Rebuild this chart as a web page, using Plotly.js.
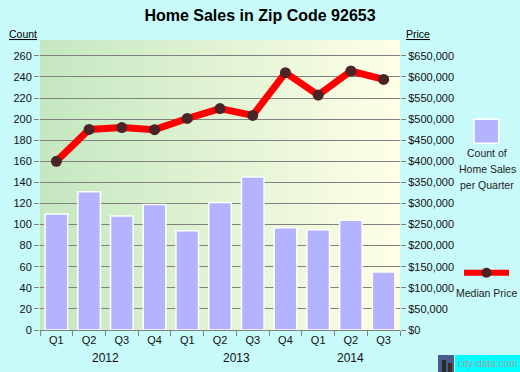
<!DOCTYPE html>
<html>
<head>
<meta charset="utf-8">
<script src="https://cdn.plot.ly/plotly-3.0.1.min.js"></script>
<style>
html,body{margin:0;padding:0;background:#C8FAFA;}
#chart{width:520px;height:372px;}
</style>
</head>
<body>
<div id="chart"></div>
<script>
// ---- data ----
const quarters = ['Q1','Q2','Q3','Q4','Q1','Q2','Q3','Q4','Q1','Q2','Q3'];
const years    = ['2012','2012','2012','2012','2013','2013','2013','2013','2014','2014','2014'];
const salesCount = [110,131,108,119,94,121,145,97,95,104,55];
const medianPrice = [400000,475500,480000,475000,501500,525000,508700,610000,557000,614000,594000];
const countTicks = [0,20,40,60,80,100,120,140,160,180,200,220,240,260];
const priceTicks = [0,50000,100000,150000,200000,250000,300000,350000,400000,450000,500000,550000,600000,650000];
const yearLabels = ['2012','2013','2014'];

// ---- build ----
const cats = quarters.map((q,i)=>years[i]+' '+q);
const priceText = priceTicks.map(v=>'$'+v.toString().replace(/\B(?=(\d{3})+(?!\d))/g, ','));
const W=360, H=290, L=40, T=40;
const px = v => (v-L)/W;
const py = v => (T+H-v)/H;

const gradSvg = "<svg xmlns='http://www.w3.org/2000/svg' width='100' height='100' preserveAspectRatio='none'><defs><linearGradient id='g' x1='0' y1='0' x2='1' y2='0'><stop offset='0' stop-color='#C4E7C1'/><stop offset='1' stop-color='#FFFFE6'/></linearGradient></defs><rect width='100' height='100' fill='url(#g)'/></svg>";

const bars = {
  type:'bar', x:cats, y:salesCount, yaxis:'y',
  marker:{color:'#B3B3FF', line:{color:'#FFFFFF', width:1.5}},
  hoverinfo:'skip', showlegend:false
};
const line = {
  type:'scatter', mode:'lines+markers', x:cats, y:medianPrice, yaxis:'y2',
  line:{color:'#FF0000', width:7},
  marker:{color:'#4B2525', size:11},
  hoverinfo:'skip', showlegend:false
};

const annotations = [];
yearLabels.forEach(y=>{
  const idx = years.map((v,i)=>v===y?i:-1).filter(i=>i>=0);
  const mid = (idx[0]+idx[idx.length-1])/2;
  annotations.push({x:mid, xref:'x', y:py(357.5), yref:'paper', text:y, showarrow:false,
    font:{size:12, color:'#111'}, xanchor:'center', yanchor:'middle'});
});
function note(text, x, y, size, color){
  annotations.push({x:px(x), y:py(y), xref:'paper', yref:'paper', text:text, showarrow:false,
    font:{size:size, color:color}, xanchor:'center', yanchor:'middle', borderpad:0});
}
note('<u>Count</u>', 22.5, 34, 10.5, '#000');
note('<u>Price</u>', 417.5, 34, 10.5, '#000');
note('Count of', 487, 153, 10.5, '#222');
note('Home Sales', 487, 169, 10.5, '#222');
note('per Quarter', 487, 185, 10.5, '#222');
note('Median Price', 486, 293, 10.5, '#222');
note('city-data.com', 487.5, 363, 10, '#A0A0A0');

const shapes = [
  {type:'rect', xref:'paper', yref:'paper', x0:px(474), x1:px(498.7), y0:py(143.3), y1:py(119.3), fillcolor:'#B3B3FF', line:{color:'#FFFFFF', width:1.5}},
  {type:'line', xref:'paper', yref:'paper', x0:px(464), x1:px(509), y0:py(272.7), y1:py(272.7), line:{color:'#FF0000', width:6}},
  {type:'circle', xref:'paper', yref:'paper', x0:px(481.5), x1:px(491.5), y0:py(277.7), y1:py(267.7), fillcolor:'#4B2525', line:{width:0}},
  {type:'rect', xref:'paper', yref:'paper', x0:px(455), x1:px(520), y0:py(372), y1:py(355), fillcolor:'#00FFFF', line:{width:0}},
  {type:'rect', xref:'paper', yref:'paper', x0:px(438), x1:px(454), y0:py(372), y1:py(355), fillcolor:'#4A5A8C', line:{width:0}},
  {type:'rect', xref:'paper', yref:'paper', x0:px(442), x1:px(446), y0:py(372), y1:py(360), fillcolor:'#2A2A2A', line:{width:0}},
  {type:'rect', xref:'paper', yref:'paper', x0:px(448), x1:px(452), y0:py(372), y1:py(363), fillcolor:'#3A3020', line:{width:0}}
];

const layout = {
  width:520, height:372,
  margin:{l:40, r:120, t:40, b:42, pad:0},
  paper_bgcolor:'#C8FAFA',
  plot_bgcolor:'rgba(0,0,0,0)',
  font:{family:'Arial, "Liberation Sans", sans-serif', size:11, color:'#111'},
  title:{text:'<b>Home Sales in Zip Code 92653</b>', x:0.5, xref:'container', xanchor:'center',
         y:1-15/372, yref:'container', yanchor:'middle', font:{size:16, color:'#000'}},
  bargap:0.31,
  xaxis:{type:'category', range:[-0.5, cats.length-0.5], tickson:'boundaries', ticks:'outside', ticklen:5, tickcolor:'#808080',
         tickvals:cats, ticktext:quarters, showgrid:false, showline:true, linecolor:'#808080', linewidth:1,
         tickfont:{size:11, color:'#111'}, fixedrange:true, zeroline:false},
  yaxis:{range:[0,275], tickvals:countTicks, ticks:'outside', ticklen:5, tickcolor:'#808080',
         showgrid:true, gridcolor:'#808080', gridwidth:1, showline:false, zeroline:false,
         tickfont:{size:11, color:'#111'}},
  yaxis2:{range:[0,687500], overlaying:'y', side:'right', tickvals:priceTicks, ticktext:priceText,
         ticks:'outside', ticklen:5, tickcolor:'#808080', showgrid:false, showline:false, zeroline:false,
         tickfont:{size:11, color:'#111'}},
  images:[{source:'data:image/svg+xml;utf8,'+encodeURIComponent(gradSvg), xref:'paper', yref:'paper',
           x:0, y:1, sizex:1, sizey:1, sizing:'stretch', xanchor:'left', yanchor:'top', layer:'below'}],
  shapes:shapes,
  annotations:annotations,
  showlegend:false
};

Plotly.newPlot('chart',[bars,line],layout,{staticPlot:true, displayModeBar:false});
</script>
</body>
</html>
